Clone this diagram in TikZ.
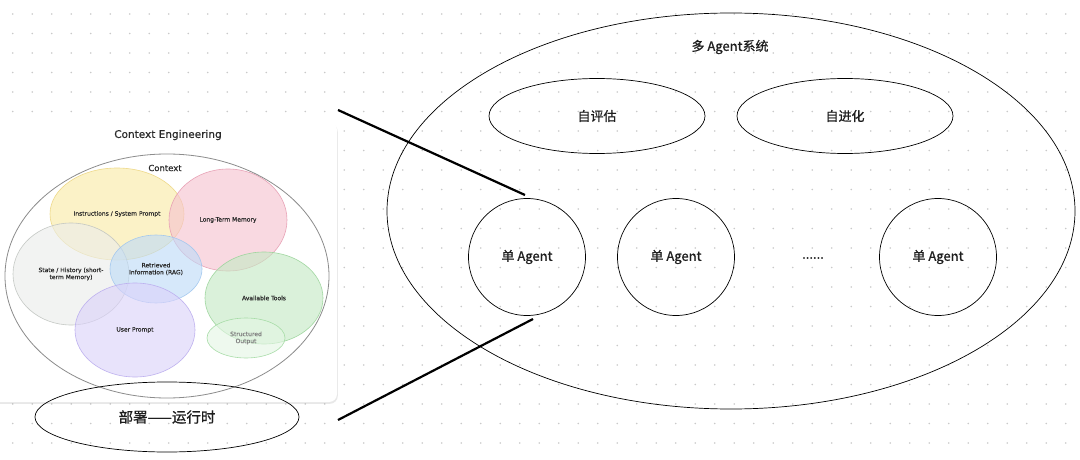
\documentclass[tikz,border=0pt]{standalone}
\usepackage{fontspec}
\newfontfamily\cjk{Noto Sans CJK SC}[FakeBold=0.8]
\newfontfamily\hand{DejaVu Sans}[FakeBold=0.4]
\usetikzlibrary{shapes.geometric,shadows}
\definecolor{dotc}{HTML}{C9C9C9}
\definecolor{ink}{HTML}{1E1E1E}
\definecolor{hink}{HTML}{2A2A2A}
\definecolor{yelF}{HTML}{FAEBA6}\definecolor{yelD}{HTML}{EDD682}
\definecolor{pinF}{HTML}{F6C2D0}\definecolor{pinD}{HTML}{E69CB1}
\definecolor{gryF}{HTML}{EBEDEB}\definecolor{gryD}{HTML}{C0C4C0}
\definecolor{bluF}{HTML}{BEDBF8}\definecolor{bluD}{HTML}{A0C6EE}
\definecolor{purF}{HTML}{DBD2FA}\definecolor{purD}{HTML}{BAACEE}
\definecolor{grnF}{HTML}{C4EAC4}\definecolor{grnD}{HTML}{9AD49A}
\definecolor{lgrF}{HTML}{E4F6E4}\definecolor{lgrD}{HTML}{A2DAA2}
\tikzset{
  venn/.style={ellipse, draw, inner sep=0pt, line width=0.6pt, fill opacity=0.62, draw opacity=0.9, text opacity=1,
    text=hink, align=center, font=\hand\fontsize{6}{7}\selectfont},
  ell/.style={ellipse, draw=black, line width=0.7pt, inner sep=0pt, text=ink, font=\cjk\fontsize{13}{15}\selectfont},
  thickline/.style={line width=2.2pt, black},
  lbl/.style={inner sep=0pt, text=ink, font=\cjk\fontsize{13}{15}\selectfont}
}
\begin{document}
\begin{tikzpicture}[x=1pt,y=-1pt]
\useasboundingbox (0,0) rectangle (1080,460);
\fill[white] (0,0) rectangle (1080,460);
% dot grid
\foreach \i in {0,...,54}{
  \foreach \j in {0,...,22}{
    \fill[dotc] (12.7+19.5*\i, 14+19.5*\j) circle[radius=0.85pt];
  }
}
% card
\fill[white, rounded corners=8pt, drop shadow={opacity=0.18, shadow xshift=0.8pt, shadow yshift=-1.8pt}] (-10,122) rectangle (337,402);
% title
\node[inner sep=0pt, text=hink, font=\hand\fontsize{10.5}{12}\selectfont] (cetitle) at (168,135) {Context Engineering};
% venn circles
\node[venn, fill=yelF, draw=yelD, minimum width=134pt, minimum height=92pt] (instr) at (117,214) {\raisebox{-4pt}{Instructions / System Prompt}};
\node[venn, fill=pinF, draw=pinD, minimum width=118pt, minimum height=102pt] (ltm) at (228,220) {Long-Term Memory};
\node[venn, fill=gryF, draw=gryD, minimum width=116pt, minimum height=102pt] (state) at (71,274) {State / History (short-\\term Memory)};
\node[venn, fill=bluF, draw=bluD, minimum width=92pt, minimum height=68pt] (rag) at (156,269) {Retrieved\\Information (RAG)};
\node[venn, fill=purF, draw=purD, minimum width=120pt, minimum height=94pt] (user) at (135,330) {User Prompt};
\node[venn, fill=grnF, draw=grnD, minimum width=118pt, minimum height=92pt] (tools) at (264,298) {Available Tools};
\node[venn, fill=lgrF, draw=lgrD, minimum width=78pt, minimum height=40pt, text=black!50] (struct) at (246,338) {Structured\\Output};
% context outer ellipse
\node[ellipse, draw=black!45, line width=0.8pt, inner sep=0pt, minimum width=324pt, minimum height=244pt] (ctx) at (167,276) {};
\node[inner sep=0pt, text=hink, font=\hand\fontsize{8.5}{10}\selectfont] (ctxlbl) at (165,168) {Context};
% deployment
\node[ell, minimum width=264pt, minimum height=70pt, font=\cjk\fontsize{14.5}{16}\selectfont] (deploy) at (167,417) {部署——运行时};
% multi agent system
\node[ell, minimum width=688pt, minimum height=396pt] (multi) at (731,211) {};
\node[lbl] (multititle) at (730,47) {多 Agent系统};
\node[ell, minimum width=216pt, minimum height=75pt] (selfeval) at (597,116) {自评估};
\node[ell, minimum width=216pt, minimum height=75pt] (selfevo) at (845,116) {自进化};
\node[ell, circle, minimum size=117pt] (a1) at (527,257) {单 Agent};
\node[ell, circle, minimum size=117pt] (a2) at (676,257) {单 Agent};
\node[lbl] (more) at (813,258) {......};
\node[ell, circle, minimum size=117pt] (a3) at (938,257) {单 Agent};
% connectors
\coordinate (u1) at (338,110);
\coordinate (u2) at (525,195);
\coordinate (l1) at (338,420);
\coordinate (l2) at (533,319);
\draw[thickline] (u1) -- (u2);
\draw[thickline] (l1) -- (l2);
\end{tikzpicture}
\end{document}
